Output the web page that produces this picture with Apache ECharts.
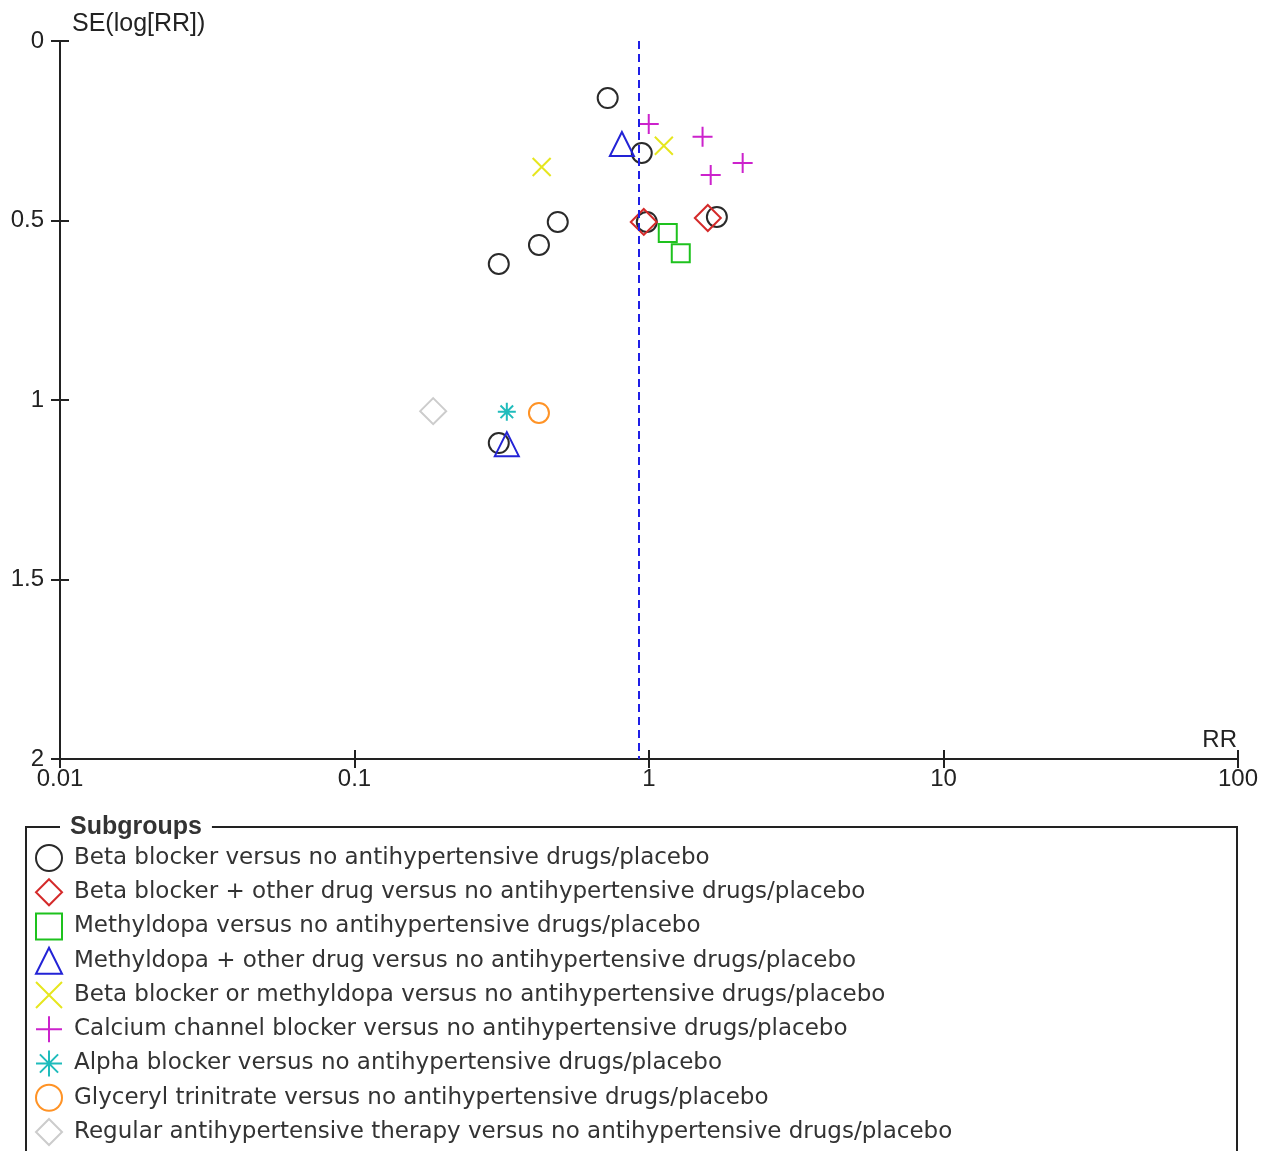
<!DOCTYPE html>
<html>
<head>
<meta charset="utf-8">
<script src="https://cdn.jsdelivr.net/npm/echarts@6/dist/echarts.min.js"></script>
<style>
  html, body { margin: 0; padding: 0; background: #fff; }
  #chart { width: 1271px; height: 1151px; }
</style>
</head>
<body>
<div id="chart"></div>
<script>
// subgroup names
const subgroups = [
  'Beta blocker versus no antihypertensive drugs/placebo',
  'Beta blocker + other drug versus no antihypertensive drugs/placebo',
  'Methyldopa versus no antihypertensive drugs/placebo',
  'Methyldopa + other drug versus no antihypertensive drugs/placebo',
  'Beta blocker or methyldopa versus no antihypertensive drugs/placebo',
  'Calcium channel blocker versus no antihypertensive drugs/placebo',
  'Alpha blocker versus no antihypertensive drugs/placebo',
  'Glyceryl trinitrate versus no antihypertensive drugs/placebo',
  'Regular antihypertensive therapy versus no antihypertensive drugs/placebo'
]

// [RR, SE(log[RR])] per study
const betaBlocker = [[0.724, 0.159], [0.945, 0.312], [0.49, 0.504], [0.423, 0.568], [0.309, 0.621], [0.983, 0.504], [1.70, 0.490], [0.309, 1.12]]
const betaPlusOther = [[0.96, 0.504], [1.584, 0.493]]
const methyldopa = [[1.158, 0.535], [1.282, 0.591]]
const methyldopaPlusOther = [[0.809, 0.287], [0.329, 1.123]]
const betaOrMethyldopa = [[1.123, 0.292], [0.432, 0.351]]
const calciumBlocker = [[0.998, 0.231], [1.52, 0.267], [2.08, 0.340], [1.62, 0.373]]
const alphaBlocker = [[0.329, 1.033]]
const glycerylTrinitrate = [[0.423, 1.036]]
const regularTherapy = [[0.185, 1.031]]

const pooledRR = 0.916
const xTickLabels = ['0.01', '0.1', '1', '10', '100']
const yTickLabels = ['0', '0.5', '1', '1.5', '2']

const FONT = 'Liberation Sans, Arial, sans-serif'
const LEGEND_FONT = 'DejaVu Sans, sans-serif'
const INK = '#222'

const X_PATH = 'path://M0,0L10,10M10,0L0,10'
const PLUS_PATH = 'path://M5,0L5,10M0,5L10,5'
const STAR_PATH = 'path://M5,0L5,10M0,5L10,5M1.5,1.5L8.5,8.5M8.5,1.5L1.5,8.5'

const groups = [
  { data: betaBlocker, symbol: 'circle', size: 20, color: '#2a2a2a' },
  { data: betaPlusOther, symbol: 'diamond', size: 26, color: '#d42a2a' },
  { data: methyldopa, symbol: 'rect', size: 18, color: '#1ec21e' },
  { data: methyldopaPlusOther, symbol: 'triangle', size: 24, color: '#2323d6' },
  { data: betaOrMethyldopa, symbol: X_PATH, size: 18, color: '#e6e61e' },
  { data: calciumBlocker, symbol: PLUS_PATH, size: 20, color: '#cc22cc' },
  { data: alphaBlocker, symbol: STAR_PATH, size: 18, color: '#1fbcbc' },
  { data: glycerylTrinitrate, symbol: 'circle', size: 20, color: '#ff9326' },
  { data: regularTherapy, symbol: 'diamond', size: 26, color: '#cccccc' }
]

const chart = echarts.init(document.getElementById('chart'))

const series = groups.map((g, i) => ({
  name: subgroups[i],
  type: 'scatter',
  data: g.data,
  symbol: g.symbol,
  symbolSize: g.size,
  itemStyle: {
    color: 'transparent',
    borderColor: g.color,
    borderWidth: 2,
    opacity: 1
  },
  emphasis: { disabled: true }
}))

series[0].markLine = {
  silent: true,
  symbol: 'none',
  label: { show: false },
  lineStyle: { color: '#1f1fe6', type: [8, 5], width: 2 },
  data: [{ xAxis: pooledRR }]
}

const axisCommonX = {
  type: 'log',
  logBase: 10,
  min: 0.01,
  max: 100,
  gridIndex: 0,
  position: 'bottom',
  splitLine: { show: false }
}
const axisCommonY = {
  type: 'value',
  inverse: true,
  min: 0,
  max: 2,
  interval: 0.5,
  gridIndex: 0,
  position: 'left',
  splitLine: { show: false }
}

const option = {
  animation: false,
  backgroundColor: '#fff',
  textStyle: { fontFamily: FONT },
  title: {
    text: 'Subgroups',
    left: 60,
    top: 815,
    padding: [0, 10],
    backgroundColor: '#fff',
    textStyle: { fontFamily: FONT, fontSize: 25, fontWeight: 'bold', color: '#333' }
  },
  graphic: [{
    type: 'rect',
    shape: { x: 26, y: 827, width: 1211, height: 400 },
    style: { fill: 'none', stroke: INK, lineWidth: 2 },
    silent: true
  }],
  grid: { left: 60, right: 33, top: 41, height: 718 },
  xAxis: [
    Object.assign({}, axisCommonX, {
      name: 'RR',
      nameLocation: 'end',
      nameGap: -1,
      nameTextStyle: { fontFamily: FONT, fontSize: 24, color: INK, align: 'right', verticalAlign: 'bottom', padding: [0, 0, 7, 0] },
      axisLine: { onZero: false, lineStyle: { color: INK, width: 2 } },
      axisTick: { length: 9, lineStyle: { color: INK, width: 2 } },
      axisLabel: {
        fontFamily: FONT, fontSize: 24, color: INK, margin: 8,
        formatter: v => xTickLabels[Math.round(Math.log10(v)) + 2]
      }
    }),
    Object.assign({}, axisCommonX, {
      axisLine: { show: false, onZero: false },
      axisTick: { inside: true, length: 9, lineStyle: { color: INK, width: 2 } },
      axisLabel: { show: false }
    })
  ],
  yAxis: [
    Object.assign({}, axisCommonY, {
      name: 'SE(log[RR])',
      nameLocation: 'start',
      nameGap: 17,
      nameTextStyle: { fontFamily: FONT, fontSize: 25, color: INK, align: 'left', verticalAlign: 'middle', padding: [0, 0, 0, 12] },
      axisLine: { onZero: false, lineStyle: { color: INK, width: 2 } },
      axisTick: { length: 9, lineStyle: { color: INK, width: 2 } },
      axisLabel: {
        fontFamily: FONT, fontSize: 24, color: INK, margin: 16,
        formatter: v => yTickLabels[Math.round(v * 2)]
      }
    }),
    Object.assign({}, axisCommonY, {
      axisLine: { show: false, onZero: false },
      axisTick: { inside: true, length: 9, lineStyle: { color: INK, width: 2 } },
      axisLabel: { show: false }
    })
  ],
  legend: {
    orient: 'vertical',
    left: 30,
    top: 839,
    height: 320,
    itemWidth: 26,
    itemHeight: 26,
    itemGap: 6.25,
    selectedMode: false,
    textStyle: { fontFamily: LEGEND_FONT, fontSize: 23, color: '#333', lineHeight: 26, padding: [0, 0, 0, 7] },
    data: subgroups
  },
  series
}

chart.setOption(option)
</script>
</body>
</html>
